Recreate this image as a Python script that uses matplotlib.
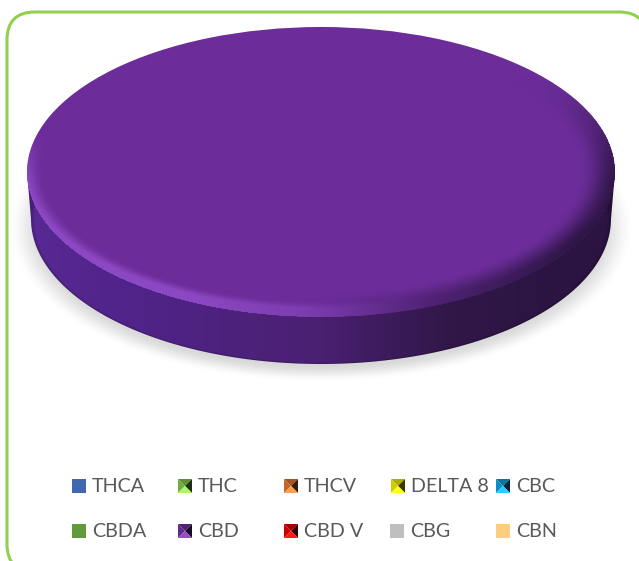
import numpy as np
import matplotlib
matplotlib.use('Agg')
import matplotlib.pyplot as plt
from matplotlib.patches import FancyBboxPatch, Polygon

# chart data
LABELS = ['THCA', 'THC', 'THCV', 'DELTA 8', 'CBC', 'CBDA', 'CBD', 'CBD V', 'CBG', 'CBN']
VALUES = [0, 0, 0, 0, 0, 0, 100, 0, 0, 0]
COLORS = ['#3F68B0', '#7FC048', '#D9722C', '#E6E600', '#0A9FD8',
          '#5F9A3C', '#6C2D9A', '#E00000', '#BFBFBF', '#FFCC80']
BEVELED = [False, True, True, True, True, False, True, True, False, False]

W, H = 639, 561
CX, CY, RX, RY = 321, 172, 294, 145      # top face
BX, BY, BRX, BRY = 321, 219, 290, 145    # bottom edge of the side wall

plt.rcParams['font.family'] = ['Lato', 'DejaVu Sans']

fig = plt.figure(figsize=(W / 100, H / 100), dpi=100)
bg = fig.add_axes([0, 0, 1, 1])
bg.set_xlim(0, W)
bg.set_ylim(H, 0)
bg.axis('off')

# rounded frame, runs off the right and bottom edges
bg.add_patch(FancyBboxPatch((7, 12), 640, 560, boxstyle='round,pad=0,rounding_size=28',
                            fc='white', ec='#92D050', lw=2.2))

yy, xx = np.mgrid[0:H, 0:W] + 0.5


def smooth(a, b, v):
    t = np.clip((v - a) / (b - a), 0, 1)
    return t * t * (3 - 2 * t)


def hex_rgb(c):
    return np.array(matplotlib.colors.to_rgb(c))


def draw_rgba(ax, rgba, zorder):
    im = ax.imshow(rgba, extent=(0, W, H, 0), interpolation='bilinear', zorder=zorder)
    ax.set_xlim(0, W)
    ax.set_ylim(H, 0)
    ax.set_aspect('auto')
    return im


# soft shadow under the disc
r_sh = np.sqrt(((xx - 321) / 298) ** 2 + ((yy - 228) / 147) ** 2)
shadow = np.zeros((H, W, 4))
shadow[..., :3] = 0.6
shadow[..., 3] = 0.38 * (1 - smooth(0.93, 1.05, r_sh))
draw_rgba(bg, shadow, 2)

# side wall, horizontal shading left to right
side_x = np.array([0, 120, 320, 450, 560, 639])
side_cols = np.array([hex_rgb(c) for c in ['#5C2A98', '#50248A', '#4A2072', '#301748', '#2B1442', '#2B1442']])
side = np.zeros((H, W, 4))
for i in range(3):
    side[..., i] = np.interp(xx, side_x, side_cols[:, i])
side[..., 3] = 1
# thin dark line at the bottom of the wall
r_b = np.sqrt(((xx - BX) / BRX) ** 2 + ((yy - BY) / BRY) ** 2)
side[..., :3] *= (1 - 0.2 * smooth(0.985, 1.0, r_b))[..., None]
side_im = draw_rgba(bg, side, 3)

t = np.linspace(np.pi, 0, 200)
lower = np.column_stack([BX + BRX * np.cos(t), BY + BRY * np.sin(t)])
top_half = np.array([[CX + RX, CY], [CX - RX, CY]])
side_poly = Polygon(np.vstack([[CX - RX, CY], lower, top_half]), transform=bg.transData,
                    fc='none', ec='none')
bg.add_patch(side_poly)
side_im.set_clip_path(side_poly)

# top face, real pie squashed by its own axes
pie_ax = fig.add_axes([(CX - RX) / W, 1 - (CY + RY) / H, 2 * RX / W, 2 * RY / H], zorder=2)
wedges, _ = pie_ax.pie(VALUES, colors=COLORS, radius=1, startangle=90)
pie_ax.set_xlim(-1, 1)
pie_ax.set_ylim(-1, 1)
pie_ax.set_aspect('auto')
pie_ax.patch.set_alpha(0)
for w in wedges:
    w.set_clip_on(False)

# bevel on the top face: light towards lower left, dark towards the right
ov = fig.add_axes([0, 0, 1, 1], zorder=3)
ov.axis('off')
ov.patch.set_alpha(0)
r_in = np.sqrt(((xx - CX) / (RX - 7)) ** 2 + ((yy - (CY - 2)) / (RY - 10)) ** 2)
r_out = np.sqrt(((xx - CX) / RX) ** 2 + ((yy - CY) / RY) ** 2)
band_l = smooth(0.95, 1.03, r_in) ** 2
band_d = smooth(0.9, 1.04, r_in)
ux, vy = (xx - CX) / RX, (yy - CY) / RY
light = np.clip(-ux * 1.2 + vy * 0.5, 0, 1) * smooth(-0.3, 0.1, vy)
dark = np.clip(ux * 1.1 + 0.05, 0, 1) * smooth(-0.7, 0.1, vy)
overlay = np.zeros((H, W, 4))
light_col = hex_rgb('#9450CE')
dark_col = hex_rgb('#2B1442')
a_light = band_l * light * 0.8
a_dark = band_d * dark * 0.95
a = np.clip(a_light + a_dark, 0, 1)
mix = np.divide(a_dark, a_light + a_dark, out=np.zeros_like(a), where=(a_light + a_dark) > 0)
overlay[..., :3] = light_col * (1 - mix[..., None]) + dark_col * mix[..., None]
overlay[..., 3] = a * (r_out <= 1.0)
draw_rgba(ov, overlay, 1)

# legend, laid out in two rows like the original
col_x = [72, 178, 284, 390, 496]
row_y = [486, 531]
for i, (name, c, bev) in enumerate(zip(LABELS, COLORS, BEVELED)):
    x0 = col_x[i % 5] + (1 if i == 3 else 0)
    yc = row_y[i // 5]
    s = 14
    x1, y0, y1 = x0 + s, yc - s / 2, yc + s / 2
    if bev:
        base = hex_rgb(c)
        mid = (x0 + s / 2, yc)
        faces = [([(x0, y0), (x1, y0), mid], base * 0.75),
                 ([(x0, y0), (x0, y1), mid], base * 0.9),
                 ([(x1, y0), (x1, y1), mid], base * 0.25),
                 ([(x0, y1), (x1, y1), mid], np.clip(base * 1.15 + 0.1, 0, 1))]
        for pts, col in faces:
            ov.add_patch(Polygon(pts, fc=col, ec='none'))
    else:
        ov.add_patch(plt.Rectangle((x0, y0), s, s, fc=c, ec='none'))
    ov.text(x0 + 20, yc + 0.5, name, color='#595959', fontsize=14.2, va='center', ha='left')

fig.savefig('out.png', dpi=100, facecolor='white')
